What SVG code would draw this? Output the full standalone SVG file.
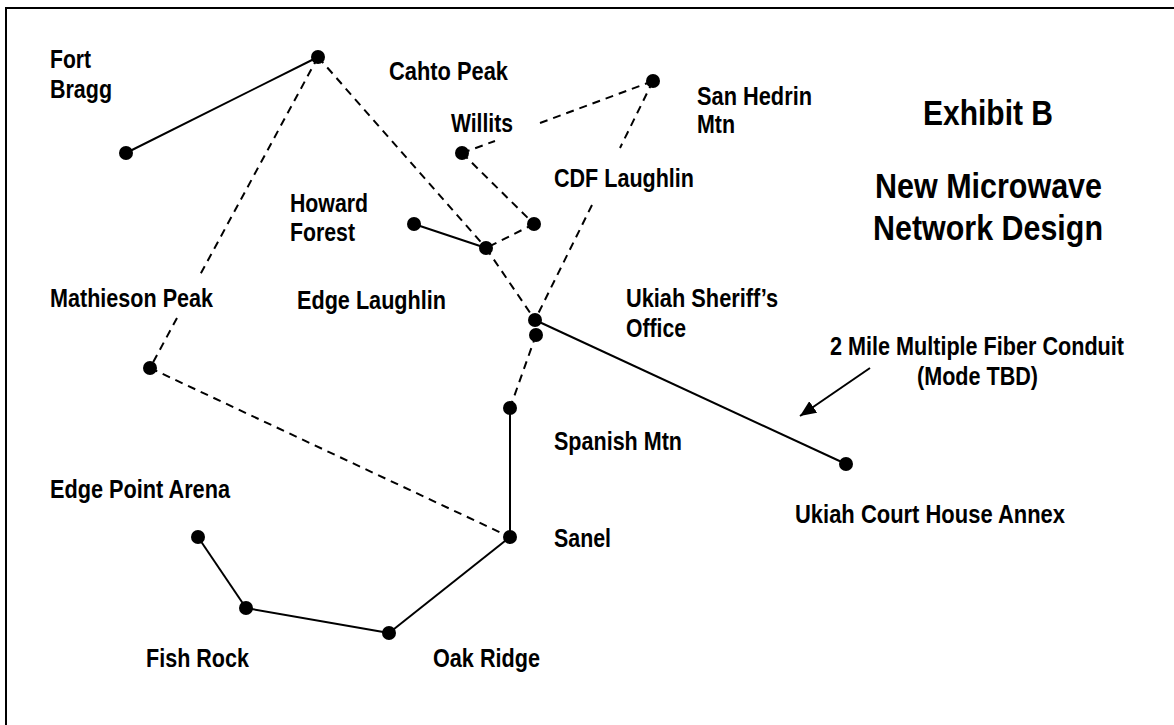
<svg xmlns="http://www.w3.org/2000/svg" width="1174" height="725" viewBox="0 0 1174 725">
<style>
text{font-family:"Liberation Sans Narrow","Liberation Sans",Arial,sans-serif;font-weight:bold;fill:#000}
.lbl{font-size:25px}
.ttl{font-size:35px}
.node{fill:#000}
.solid{stroke:#000;stroke-width:2;fill:none}
.dash{stroke:#000;stroke-width:2;fill:none;stroke-dasharray:8 6}
</style>
<defs>
<marker id="arr" viewBox="0 0 16 14" refX="16" refY="7" markerWidth="16" markerHeight="14" orient="auto" markerUnits="userSpaceOnUse"><path d="M0,0 L16,7 L0,14 z" fill="#000"/></marker>
</defs>
<rect x="0" y="0" width="1174" height="725" fill="#fff"/>
<path d="M6,725 V8 H1174" fill="none" stroke="#000" stroke-width="2"/>
<g id="connectors">
<line class="solid" x1="126" y1="153" x2="318" y2="57"/>
<line class="solid" x1="414" y1="224" x2="486" y2="248"/>
<line class="solid" x1="535" y1="320" x2="846" y2="464"/>
<line class="solid" x1="510" y1="408" x2="510" y2="537"/>
<line class="solid" x1="510" y1="537" x2="389" y2="633"/>
<line class="solid" x1="389" y1="633" x2="246" y2="608"/>
<line class="solid" x1="246" y1="608" x2="198" y2="537"/>
<line class="dash" x1="318" y1="57" x2="200" y2="275"/>
<line class="dash" x1="177" y1="318" x2="150" y2="368"/>
<line class="dash" x1="318" y1="57" x2="486" y2="248"/>
<line class="dash" x1="486" y1="248" x2="535" y2="320"/>
<line class="dash" x1="462" y1="153" x2="495" y2="141"/>
<line class="dash" x1="540" y1="123" x2="653" y2="81"/>
<line class="dash" x1="462" y1="153" x2="534" y2="224"/>
<line class="dash" x1="534" y1="224" x2="486" y2="248"/>
<line class="dash" x1="653" y1="81" x2="620" y2="148"/>
<line class="dash" x1="592" y1="205" x2="535" y2="320"/>
<line class="dash" x1="536" y1="335" x2="510" y2="408"/>
<line class="dash" x1="150" y1="368" x2="510" y2="537"/>
<line class="solid" x1="870" y1="368" x2="800" y2="416" marker-end="url(#arr)"/>
</g>
<g id="cahto-peak"><circle class="node" cx="318" cy="57" r="7"/><text class="lbl" x="389" y="80" textLength="119" lengthAdjust="spacingAndGlyphs">Cahto Peak</text></g>
<g id="fort-bragg"><circle class="node" cx="126" cy="153" r="7"/><text class="lbl" x="50" y="68" textLength="41" lengthAdjust="spacingAndGlyphs">Fort</text><text class="lbl" x="50" y="98" textLength="62" lengthAdjust="spacingAndGlyphs">Bragg</text></g>
<g id="san-hedrin"><circle class="node" cx="653" cy="81" r="7"/><text class="lbl" x="697" y="105" textLength="115" lengthAdjust="spacingAndGlyphs">San Hedrin</text><text class="lbl" x="697" y="133" textLength="38" lengthAdjust="spacingAndGlyphs">Mtn</text></g>
<g id="willits"><circle class="node" cx="462" cy="153" r="7"/><text class="lbl" x="451" y="132" textLength="62" lengthAdjust="spacingAndGlyphs">Willits</text></g>
<g id="cdf-laughlin"><circle class="node" cx="534" cy="224" r="7"/><text class="lbl" x="554" y="187" textLength="140" lengthAdjust="spacingAndGlyphs">CDF Laughlin</text></g>
<g id="howard-forest"><circle class="node" cx="414" cy="224" r="7"/><text class="lbl" x="290" y="212" textLength="78" lengthAdjust="spacingAndGlyphs">Howard</text><text class="lbl" x="290" y="241" textLength="65" lengthAdjust="spacingAndGlyphs">Forest</text></g>
<g id="edge-laughlin"><circle class="node" cx="486" cy="248" r="7"/><text class="lbl" x="297" y="309" textLength="149" lengthAdjust="spacingAndGlyphs">Edge Laughlin</text></g>
<g id="ukiah-sheriff"><circle class="node" cx="535" cy="320" r="7"/><circle class="node" cx="536" cy="335" r="7"/><text class="lbl" x="626" y="307" textLength="152" lengthAdjust="spacingAndGlyphs">Ukiah Sheriff’s</text><text class="lbl" x="626" y="337" textLength="60" lengthAdjust="spacingAndGlyphs">Office</text></g>
<g id="mathieson-peak"><circle class="node" cx="150" cy="368" r="7"/><text class="lbl" x="50" y="307" textLength="163" lengthAdjust="spacingAndGlyphs">Mathieson Peak</text></g>
<g id="spanish-mtn"><circle class="node" cx="510" cy="408" r="7"/><text class="lbl" x="554" y="450" textLength="128" lengthAdjust="spacingAndGlyphs">Spanish Mtn</text></g>
<g id="ukiah-court-house"><circle class="node" cx="846" cy="464" r="7"/><text class="lbl" x="795" y="523" textLength="270" lengthAdjust="spacingAndGlyphs">Ukiah Court House Annex</text></g>
<g id="sanel"><circle class="node" cx="510" cy="537" r="7"/><text class="lbl" x="554" y="547" textLength="57" lengthAdjust="spacingAndGlyphs">Sanel</text></g>
<g id="edge-point-arena"><circle class="node" cx="198" cy="537" r="7"/><text class="lbl" x="50" y="498" textLength="180" lengthAdjust="spacingAndGlyphs">Edge Point Arena</text></g>
<g id="fish-rock"><circle class="node" cx="246" cy="608" r="7"/><text class="lbl" x="146" y="667" textLength="103" lengthAdjust="spacingAndGlyphs">Fish Rock</text></g>
<g id="oak-ridge"><circle class="node" cx="389" cy="633" r="7"/><text class="lbl" x="433" y="667" textLength="107" lengthAdjust="spacingAndGlyphs">Oak Ridge</text></g>
<g id="fiber-note"><text class="lbl" x="830" y="355" textLength="294" lengthAdjust="spacingAndGlyphs">2 Mile Multiple Fiber Conduit</text><text class="lbl" x="917" y="385" textLength="121" lengthAdjust="spacingAndGlyphs">(Mode TBD)</text></g>
<g id="title"><text class="ttl" x="923" y="125" textLength="130" lengthAdjust="spacingAndGlyphs">Exhibit B</text><text class="ttl" x="875" y="198" textLength="227" lengthAdjust="spacingAndGlyphs">New Microwave</text><text class="ttl" x="873" y="240" textLength="230" lengthAdjust="spacingAndGlyphs">Network Design</text></g>
</svg>
